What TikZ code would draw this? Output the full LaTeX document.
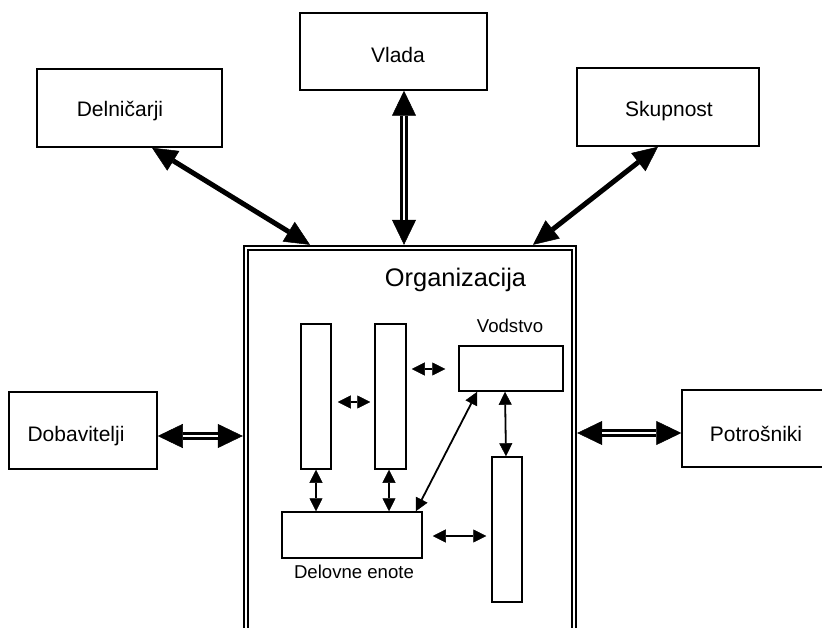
\documentclass[tikz,border=0pt]{standalone}
\usepackage{fontspec}
\setmainfont{Liberation Sans}
\usetikzlibrary{arrows.meta}
\begin{document}
\begin{tikzpicture}[x=1pt,y=-1pt,
  box/.style={draw, line width=1.5pt, inner sep=0pt},
  lbl/.style={font=\fontsize{21}{25}\selectfont, anchor=base, inner sep=0pt},
  smalllbl/.style={font=\fontsize{18.6}{22}\selectfont, anchor=base, inner sep=0pt},
  bigarrow/.style={line width=5pt, {Triangle[length=25pt,width=23pt,line width=0.5pt]}-{Triangle[length=25pt,width=23pt,line width=0.5pt]}},
  dblarrow/.style={line width=8pt, {Triangle[length=25pt,width=24pt,line width=0.5pt]}-{Triangle[length=25pt,width=24pt,line width=0.5pt]}},
  dblgap/.style={white, line width=2pt, shorten <=25pt, shorten >=25pt},
  sarrow/.style={line width=1.8pt, {Triangle[length=13pt,width=13pt,line width=0.5pt]}-{Triangle[length=13pt,width=13pt,line width=0.5pt]}},
  orgline/.style={double, double distance=2pt, line width=2pt},
]
\clip (0,0) rectangle (822,628);
\fill[white] (0,0) rectangle (822,628);

% outer boxes
\node[box, minimum width=185pt, minimum height=78pt] (del) at (129.5,108) {};
\node[box, minimum width=187pt, minimum height=77pt] (vla) at (393.5,51.5) {};
\node[box, minimum width=182pt, minimum height=78pt] (sku) at (668,107) {};
\node[box, minimum width=148pt, minimum height=77pt] (dob) at (83,430.5) {};
\node[box, minimum width=188pt, minimum height=77pt] (pot) at (776,428.5) {};

\node[lbl] (delT) at (120,117) {Delničarji};
\node[lbl] (vlaT) at (398,63) {Vlada};
\node[lbl] (skuT) at (669,117) {Skupnost};
\node[lbl] (dobT) at (76,441) {Dobavitelji};
\node[lbl] (potT) at (756,441) {Potrošniki};

% organisation
\node[inner sep=0pt, minimum width=334pt, minimum height=420pt] (org) at (410,455) {};
\draw[orgline] ([xshift=3pt]org.south west) -- ([shift={(3pt,-3pt)}]org.north west)
  -- ([shift={(-3pt,-3pt)}]org.north east) -- ([xshift=-3pt]org.south east);
\node[font=\fontsize{25.4}{30}\selectfont, anchor=base, inner sep=0pt] (orgT) at (455.5,287) {Organizacija};

% inner boxes
\node[box, minimum width=30pt, minimum height=145pt] (c1) at (316,396.5) {};
\node[box, minimum width=31pt, minimum height=145pt] (c2) at (390.5,396.5) {};
\node[box, minimum width=104pt, minimum height=45pt] (vod) at (511,368.5) {};
\node[box, minimum width=30pt, minimum height=145pt] (c3) at (507,529.5) {};
\node[box, minimum width=140pt, minimum height=46pt] (de) at (352,535) {};
\node[smalllbl] (vodT) at (510,333) {Vodstvo};
\node[smalllbl] (deT) at (354,578) {Delovne enote};

% outer arrows
\draw[bigarrow] ([xshift=22.5pt]del.south) -- ([xshift=-100pt]org.north);
\draw[bigarrow] ([xshift=-10pt]sku.south) -- ([xshift=123pt]org.north);
\draw[dblarrow] ([xshift=10.5pt]vla.south) -- ([xshift=-6pt]org.north);
\draw[dblgap] ([xshift=10.5pt]vla.south) -- ([xshift=-6pt]org.north);
\coordinate (dobR) at ([yshift=-5.5pt]dob.east);
\draw[dblarrow] (dobR) -- (dobR -| org.west);
\draw[dblgap] (dobR) -- (dobR -| org.west);
\coordinate (potL) at ([yshift=-4.5pt]pot.west);
\draw[dblarrow] (potL -| org.east) -- (potL);
\draw[dblgap] (potL -| org.east) -- (potL);

% inner arrows
\coordinate (a1) at ([xshift=6pt,yshift=-5.5pt]c1.east);
\draw[sarrow, shorten >=4pt] (a1) -- (a1 -| c2.west);
\coordinate (a2) at ([xshift=5pt,yshift=27.5pt]c2.east);
\draw[sarrow, shorten >=13pt] (a2) -- (a2 -| vod.west);
\draw[sarrow] (c1.south) -- (c1.south |- de.north);
\draw[sarrow] ([xshift=-1.5pt]c2.south) -- ([xshift=-1.5pt]c2.south |- de.north);
\draw[sarrow] ([xshift=19pt]vod.south west) -- ([xshift=-7pt]de.north east);
\draw[sarrow] ([xshift=-6pt]vod.south) -- ([xshift=-1pt]c3.north);
\coordinate (a3) at ([xshift=10pt,yshift=-1pt]de.east);
\draw[sarrow, shorten >=5pt] (a3) -- (a3 -| c3.west);
\end{tikzpicture}
\end{document}
